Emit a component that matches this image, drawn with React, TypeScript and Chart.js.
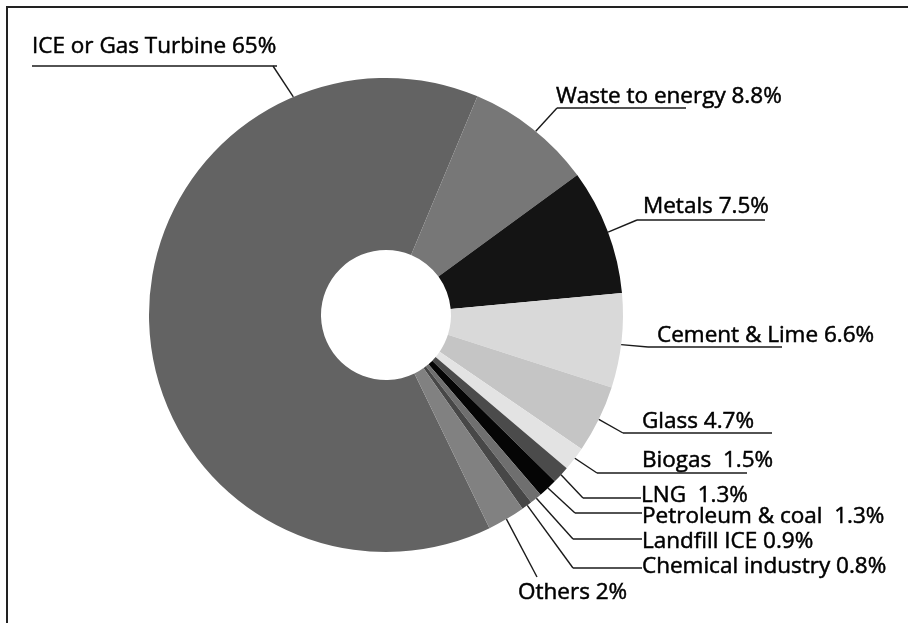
import React, { useEffect, useRef } from "react";
import { Chart, registerables } from "chart.js";

Chart.register(...registerables);

// Categories (clockwise, starting with the large slice)
const categories = [
  "ICE or Gas Turbine",
  "Waste to energy",
  "Metals",
  "Cement & Lime",
  "Glass",
  "Biogas",
  "LNG",
  "Petroleum & coal",
  "Landfill ICE",
  "Chemical industry",
  "Others",
];

// Slice shares as drawn in the picture (%)
const shares = [63.5, 8.64, 8.58, 6.42, 4.61, 1.64, 1.19, 1.31, 0.81, 0.72, 2.58];

// Percent labels printed next to each category
const percentLabels = ["65%", "8.8%", "7.5%", "6.6%", "4.7%", "1.5%", "1.3%", "1.3%", "0.9%", "0.8%", "2%"];
const labelGaps = [" ", " ", " ", " ", " ", "  ", "  ", "  ", " ", " ", " "];

const sliceColors = [
  "#636363",
  "#777777",
  "#141414",
  "#d9d9d9",
  "#c5c5c5",
  "#e3e3e3",
  "#4b4b4b",
  "#050505",
  "#6f6f6f",
  "#474747",
  "#818181",
];

// Label layout: text position, knee point, horizontal rule, attach fraction along slice
type LabelPos = { tx: number; ty: number; kx: number; ky: number; h1?: number; h2?: number; f: number };
const labelLayout: LabelPos[] = [
  { tx: 32, ty: 53, kx: 273, ky: 66, h1: 32, h2: 277, f: 0.8 },
  { tx: 556, ty: 103, kx: 557, ky: 108, h1: 557, h2: 686, f: 0.53 },
  { tx: 643, ty: 213, kx: 637, ky: 220, h1: 637, h2: 765, f: 0.51 },
  { tx: 657, ty: 342, kx: 648, ky: 347, h1: 648, h2: 782, f: 0.54 },
  { tx: 642, ty: 428, kx: 623, ky: 433, h1: 623, h2: 772, f: 0.5 },
  { tx: 642, ty: 467, kx: 597, ky: 473, h1: 597, h2: 747, f: 0.47 },
  { tx: 641, ty: 502, kx: 583, ky: 498, h1: 583, h2: 641, f: 0.49 },
  { tx: 642, ty: 523, kx: 575, ky: 513, h1: 575, h2: 642, f: 0.49 },
  { tx: 642, ty: 548, kx: 573, ky: 539, h1: 573, h2: 642, f: 0.45 },
  { tx: 642, ty: 573, kx: 573, ky: 568, h1: 573, h2: 642, f: 0.46 },
  { tx: 518, ty: 599, kx: 537, ky: 577, f: 0.5 },
];

const calloutPlugin = {
  id: "callouts",
  afterDraw(chart: any) {
    const ctx = chart.ctx as CanvasRenderingContext2D;
    const meta = chart.getDatasetMeta(0);
    ctx.save();
    ctx.font = '22.5px "Open Sans", "Noto Sans", sans-serif';
    ctx.textBaseline = "alphabetic";
    ctx.textAlign = "left";
    meta.data.forEach((arc: any, i: number) => {
      const L = labelLayout[i];
      const p = arc.getProps(["x", "y", "startAngle", "endAngle", "outerRadius"], true);
      const a = p.startAngle + (p.endAngle - p.startAngle) * L.f;
      const ax = p.x + Math.cos(a) * p.outerRadius;
      const ay = p.y + Math.sin(a) * p.outerRadius;
      ctx.strokeStyle = "#1a1a1a";
      ctx.lineWidth = 1.4;
      ctx.beginPath();
      ctx.moveTo(ax, ay);
      ctx.lineTo(L.kx, L.ky);
      ctx.stroke();
      if (L.h1 !== undefined && L.h2 !== undefined) {
        ctx.beginPath();
        ctx.moveTo(L.h1, L.ky);
        ctx.lineTo(L.h2, L.ky);
        ctx.stroke();
      }
      const text = categories[i] + labelGaps[i] + percentLabels[i];
      ctx.fillStyle = "#000";
      ctx.fillText(text, L.tx, L.ty);
      ctx.strokeStyle = "#000";
      ctx.lineWidth = 0.5;
      ctx.strokeText(text, L.tx, L.ty);
    });
    ctx.restore();
  },
};

export default function App() {
  const canvasRef = useRef<HTMLCanvasElement | null>(null);

  useEffect(() => {
    if (!canvasRef.current) return;
    const chart = new Chart(canvasRef.current, {
      type: "doughnut",
      data: {
        labels: categories,
        datasets: [
          {
            data: shares,
            backgroundColor: sliceColors,
            borderWidth: 0,
          },
        ],
      },
      options: {
        animation: false,
        responsive: false,
        maintainAspectRatio: false,
        cutout: 65,
        rotation: 154.1,
        layout: { padding: { left: 149, right: 285, top: 78, bottom: 71 } },
        plugins: {
          legend: { display: false },
          tooltip: { enabled: false },
        },
      },
      plugins: [calloutPlugin],
    });
    return () => chart.destroy();
  }, []);

  return (
    <div style={{ position: "fixed", left: 0, top: 0, width: 908, height: 623, background: "#fff", overflow: "hidden" }}>
      <div
        style={{
          position: "absolute",
          left: 6,
          top: 6,
          width: 1000,
          height: 1000,
          borderTop: "2px solid #222",
          borderLeft: "2px solid #222",
        }}
      />
      <canvas ref={canvasRef} width={908} height={623} style={{ position: "absolute", left: 0, top: 0 }} />
    </div>
  );
}
